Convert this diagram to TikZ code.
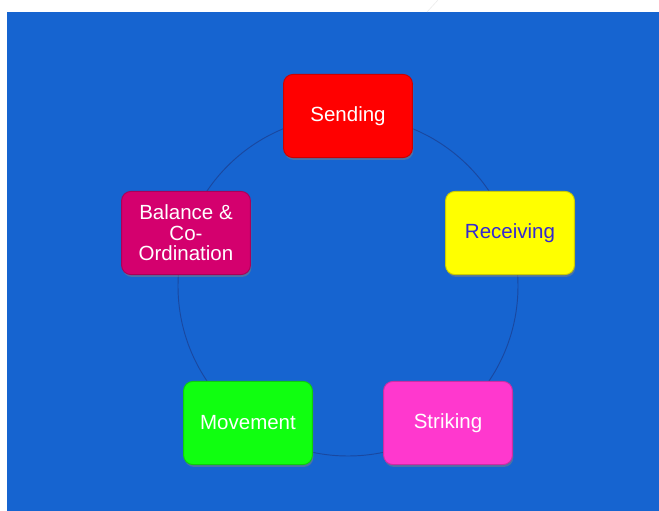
\documentclass[tikz,border=0pt]{standalone}
\usepackage{fontspec}
\setmainfont{Liberation Sans}
\usepackage{tikz}
\usetikzlibrary{shadows}

\definecolor{bgblue}{RGB}{22,100,208}
\definecolor{ringblue}{RGB}{26,72,160}
\definecolor{sendred}{RGB}{255,0,0}
\definecolor{recyellow}{RGB}{255,255,0}
\definecolor{recfont}{RGB}{52,40,210}
\definecolor{strpink}{RGB}{255,56,206}
\definecolor{movgreen}{RGB}{16,255,16}
\definecolor{balrose}{RGB}{212,0,110}

\begin{document}
\begin{tikzpicture}[x=0.03cm, y=-0.03cm,
    skill/.style={rounded corners=8pt, minimum width=110pt, minimum height=71pt,
        align=center, inner sep=2pt, text=white, line width=0.8pt,
        font=\fontsize{17.5}{17.5}\selectfont,
        drop shadow={opacity=0.5, shadow xshift=0.8pt, shadow yshift=-2pt}},
    ring/.style={ringblue, line width=0.8pt}]
    % fondo
    \fill[white] (0,0) rectangle (659,511);
    \useasboundingbox (0,0) rectangle (659,511);
    \fill[bgblue] (7,12) rectangle (659,511);
    \draw[gray!15, line width=0.5pt] (427,12) -- (438,0);
    % circulo detras de las cajas
    \coordinate (c) at (348,286);
    \draw[ring] (c) circle[radius=170];
    % las cinco cajas
    \node[skill, fill=sendred, draw=sendred!80!black] (send) at (348,116) {Sending};
    \node[skill, fill=recyellow, draw=recyellow!80!black, text=recfont] (recv) at (510,233) {Receiving};
    \node[skill, fill=strpink, draw=strpink!80!black] (strike) at (448,423) {Striking};
    \node[skill, fill=movgreen, draw=movgreen!80!black] (move) at (248,423) {Movement};
    \node[skill, fill=balrose, draw=balrose!80!black] (bal) at (186,233) {Balance \&\\Co-\\Ordination};
\end{tikzpicture}
\end{document}
